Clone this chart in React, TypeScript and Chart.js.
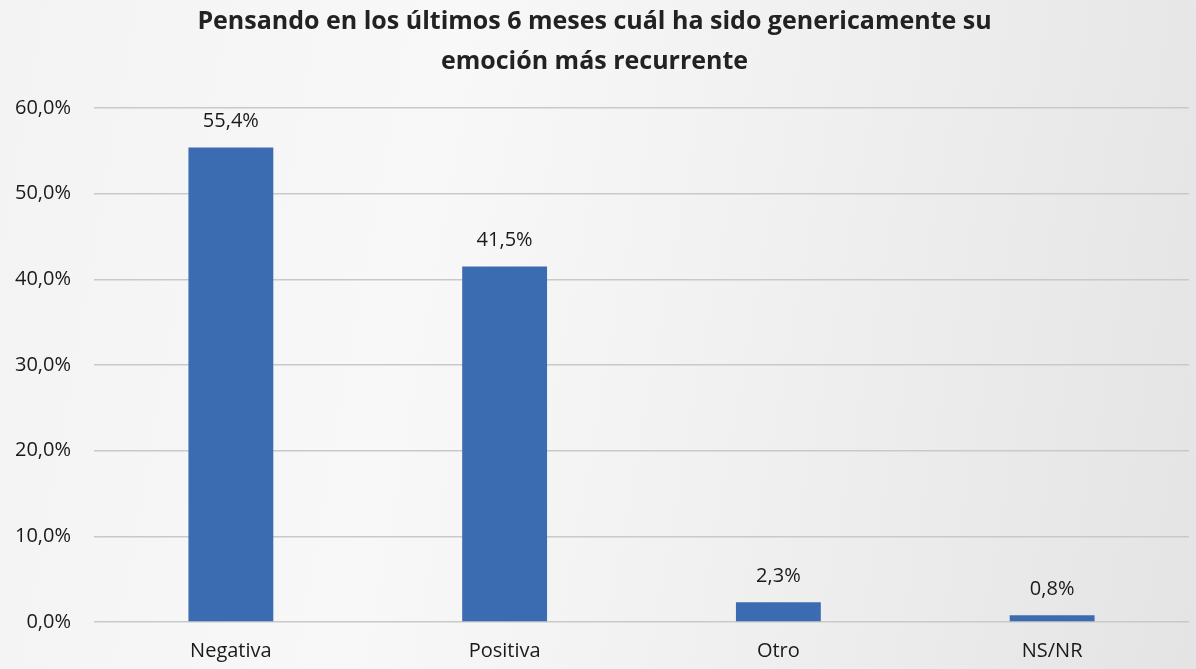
import React, { useEffect, useRef } from "react";
import { Chart, registerables } from "chart.js";

Chart.register(...registerables);

const categories = ["Negativa", "Positiva", "Otro", "NS/NR"];
const values = [55.4, 41.5, 2.3, 0.8];
const yTicks = [0, 10, 20, 30, 40, 50, 60];
const titleLines = [
  "Pensando en los últimos 6 meses cuál ha sido genericamente su",
  "emoción más recurrente",
];

const fmt = (v: number) => v.toFixed(1).replace(".", ",") + "%";

const dataLabels = {
  id: "dataLabels",
  afterDatasetsDraw(chart: any) {
    const ctx = chart.ctx;
    const meta = chart.getDatasetMeta(0);
    ctx.save();
    ctx.font = "20px 'Open Sans'";
    ctx.fillStyle = "#1a1a1a";
    ctx.textAlign = "center";
    ctx.textBaseline = "middle";
    meta.data.forEach((el: any, i: number) => {
      ctx.fillText(fmt(values[i]), el.x, el.y - 26);
    });
    ctx.restore();
  },
};

export default function App() {
  const ref = useRef<HTMLCanvasElement>(null);
  useEffect(() => {
    document.body.style.margin = "0";
    const chart = new Chart(ref.current!, {
      type: "bar",
      data: {
        labels: categories,
        datasets: [
          {
            data: values,
            backgroundColor: "#3b6cb2",
            barPercentage: 0.31,
            categoryPercentage: 1,
          },
        ],
      },
      options: {
        animation: false,
        responsive: false,
        layout: { padding: { left: 0, right: 7, top: 0, bottom: 0 } },
        plugins: {
          legend: { display: false },
          tooltip: { enabled: false },
          title: {
            display: true,
            text: titleLines,
            color: "#222222",
            font: { family: "'Open Sans'", size: 25, weight: "bold", lineHeight: 1.6 },
            padding: { top: 2, bottom: 26 },
          },
        },
        scales: {
          x: {
            grid: { display: false, drawTicks: false },
            border: { display: false },
            ticks: { color: "#1a1a1a", font: { family: "'Open Sans'", size: 20 }, padding: 17 },
            afterFit: (s: any) => {
              s.height = 47;
            },
          },
          y: {
            min: 0,
            max: 60,
            afterBuildTicks: (axis: any) => {
              axis.ticks = yTicks.map((v) => ({ value: v }));
            },
            afterFit: (s: any) => {
              s.width = 94;
            },
            grid: { color: "#c9c9c9", lineWidth: 1.5, drawTicks: false },
            border: { display: false },
            ticks: {
              color: "#1a1a1a",
              font: { family: "'Open Sans'", size: 20 },
              padding: 23,
              callback: (v: any) => fmt(Number(v)),
            },
          },
        },
      },
      plugins: [dataLabels],
    });
    return () => chart.destroy();
  }, []);
  return (
    <div
      style={{
        position: "absolute",
        left: 0,
        top: 0,
        width: 1196,
        height: 669,
        background:
          "linear-gradient(100deg, #f3f3f3 0%, #f8f8f8 35%, #f1f1f1 60%, #e4e4e4 100%)",
      }}
    >
      <canvas ref={ref} width={1196} height={669} style={{ display: "block" }} />
    </div>
  );
}
